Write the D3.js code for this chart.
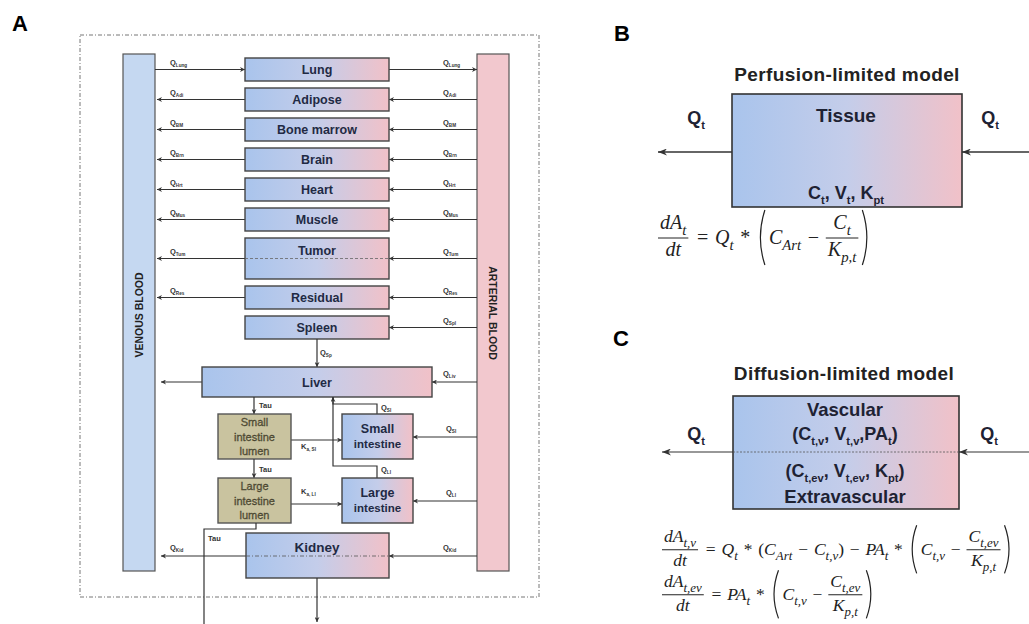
<!DOCTYPE html>
<html>
<head>
<meta charset="utf-8">
<script src="https://cdn.jsdelivr.net/npm/d3@7"></script>
<style>
  body { margin: 0; background: #fff; }
  svg { display: block; font-family: "Liberation Sans", Arial, sans-serif; }
</style>
</head>
<body>
<svg id="fig" width="1029" height="624"></svg>
<script>
// organ stack in panel A, top to bottom
var organs = ["Lung", "Adipose", "Bone marrow", "Brain", "Heart", "Muscle", "Tumor", "Residual", "Spleen"];
var flowSubs = ["Lung", "Adi", "BM", "Brn", "Hrt", "Mus", "Tum", "Res", "Spl"];
var tallOrgans = ["Tumor"];
var gutTissues = [["Small", "intestine"], ["Large", "intestine"]];
var gutSubs = ["SI", "LI"];
var lumens = [["Small", "intestine", "lumen"], ["Large", "intestine", "lumen"]];
var absorbSubs = ["a, SI", "a, LI"];
var transit = "Tau";

var svg = d3.select("#fig");
var defs = svg.append("defs");

var grad = defs.append("linearGradient").attr("id", "tis").attr("x1", 0).attr("x2", 1).attr("y1", 0).attr("y2", 0);
grad.append("stop").attr("offset", "0").attr("stop-color", "#a9c4ec");
grad.append("stop").attr("offset", "0.5").attr("stop-color", "#c4cdea");
grad.append("stop").attr("offset", "1").attr("stop-color", "#f1c1c8");

function marker(id, w, h) {
  defs.append("marker").attr("id", id)
    .attr("markerUnits", "userSpaceOnUse")
    .attr("markerWidth", w).attr("markerHeight", h)
    .attr("refX", w).attr("refY", h / 2).attr("orient", "auto")
    .append("path").attr("d", "M0,0 L" + w + "," + (h / 2) + " L0," + h + " L" + (w * 0.3) + "," + (h / 2) + " z")
    .attr("fill", "#333");
}
marker("sm", 5, 5);
marker("lg", 9, 7);

// text with subscripts: runs = [[str, kind]] kind: s=sub, n=normal
function addRuns(text, runs, fs, subScale) {
  subScale = subScale || 0.62;
  var shift = 0;
  runs.forEach(function (r) {
    var k = r[1] || "";
    var sub = k.indexOf("s") >= 0;
    var target = sub ? fs * 0.3 : 0;
    var ts = text.append("tspan").text(r[0]).attr("dy", target - shift);
    shift = target;
    if (sub) ts.attr("font-size", fs * subScale);
    if (k.indexOf("n") >= 0) ts.attr("font-style", "normal");
  });
  return text;
}

function line(g, pts, mk, opts) {
  opts = opts || {};
  return g.append("path").attr("d", d3.line()(pts))
    .attr("fill", "none").attr("stroke", opts.stroke || "#333")
    .attr("stroke-width", opts.width || 1.2)
    .attr("stroke-dasharray", opts.dash || null)
    .attr("marker-end", mk ? "url(#" + mk + ")" : null);
}

function qLabel(g, x, y, sub) {
  addRuns(g.append("text").attr("x", x).attr("y", y)
    .attr("font-size", 7.5).attr("font-weight", "bold").attr("fill", "#333"),
    [["Q"], [sub, "s"]], 7.5);
}

// ---------- panel A ----------
var A = svg.append("g");
A.append("text").attr("x", 12).attr("y", 31).attr("font-size", 22).attr("font-weight", "bold").text("A");
A.append("rect").attr("x", 80).attr("y", 35).attr("width", 459).attr("height", 562)
  .attr("fill", "none").attr("stroke", "#777").attr("stroke-width", 1).attr("stroke-dasharray", "4,2,1,2");

var venX = [123, 155], artX = [477, 509], orgX = [245, 389];
var barTop = 54, barBot = 571;

A.append("rect").attr("x", venX[0]).attr("y", barTop).attr("width", venX[1] - venX[0]).attr("height", barBot - barTop)
  .attr("fill", "#c5d8f1").attr("stroke", "#555").attr("stroke-width", 1.2);
A.append("rect").attr("x", artX[0]).attr("y", barTop).attr("width", artX[1] - artX[0]).attr("height", barBot - barTop)
  .attr("fill", "#f2c8ce").attr("stroke", "#555").attr("stroke-width", 1.2);

A.append("text").attr("transform", "translate(143,315) rotate(-90)").attr("text-anchor", "middle")
  .attr("font-size", 10.5).attr("font-weight", "bold").attr("fill", "#222").text("VENOUS BLOOD");
A.append("text").attr("transform", "translate(489,313) rotate(90)").attr("text-anchor", "middle")
  .attr("font-size", 10.5).attr("font-weight", "bold").attr("fill", "#222").text("ARTERIAL BLOOD");

// row layout: one unit = 30px pitch, tall rows take 1.6 units
var rowY = d3.scaleLinear().domain([0, 1]).range([58, 88]);
var rows = [], u = 0;
organs.forEach(function (name, i) {
  var span = tallOrgans.indexOf(name) >= 0 ? 1.6 : 1;
  var top = rowY(u), h = rowY(u + span) - top - 7;
  rows.push({ name: name, sub: flowSubs[i], top: top, h: h, cy: top + h / 2 });
  u += span;
});

rows.forEach(function (r, i) {
  if (r.name === "Lung") {
    line(A, [[venX[1], r.cy], [orgX[0], r.cy]], "sm");
    line(A, [[orgX[1], r.cy], [artX[0], r.cy]], "sm");
  } else {
    line(A, [[artX[0], r.cy], [orgX[1], r.cy]], "sm");
    if (r.name !== "Spleen") line(A, [[orgX[0], r.cy], [venX[1] + 2, r.cy]], "sm");
  }
  if (r.name !== "Spleen") qLabel(A, 170, r.cy - 5, r.sub);
  qLabel(A, 443, r.cy - 5, r.sub);
  A.append("rect").attr("x", orgX[0]).attr("y", r.top).attr("width", orgX[1] - orgX[0]).attr("height", r.h)
    .attr("fill", "url(#tis)").attr("stroke", "#444").attr("stroke-width", 1.4);
  var big = r.h > 30;
  A.append("text").attr("x", (orgX[0] + orgX[1]) / 2).attr("y", big ? r.top + 17 : r.cy + 4.5)
    .attr("text-anchor", "middle").attr("font-size", 12.5).attr("font-weight", "bold").attr("fill", "#1f2a44").text(r.name);
  if (big) line(A, [[orgX[0], r.cy], [orgX[1], r.cy]], null, { dash: "3,2", width: 0.8, stroke: "#666" });
});

// spleen -> liver
var spl = rows[rows.length - 1];
var liver = { x0: 202, x1: 432, y0: 367, y1: 397 };
line(A, [[317, spl.top + spl.h], [317, liver.y0]], "sm");
qLabel(A, 320, 355, "Sp");

var ly = (liver.y0 + liver.y1) / 2;
line(A, [[artX[0], ly], [liver.x1, ly]], "sm");
line(A, [[liver.x0, ly], [venX[1] + 6, ly]], "sm");
qLabel(A, 443, ly - 6, "Liv");
A.append("rect").attr("x", liver.x0).attr("y", liver.y0).attr("width", liver.x1 - liver.x0).attr("height", liver.y1 - liver.y0)
  .attr("fill", "url(#tis)").attr("stroke", "#444").attr("stroke-width", 1.4);
A.append("text").attr("x", 317).attr("y", ly + 4.5).attr("text-anchor", "middle")
  .attr("font-size", 12.5).attr("font-weight", "bold").attr("fill", "#1f2a44").text("Liver");

// gut
var gutRows = [{ y0: 414, y1: 459 }, { y0: 478, y1: 523 }];
var lumX = [218, 291], gutX = [342, 413];
var gutTopY = [404, 466];

gutRows.forEach(function (g, i) {
  var fy = g.y0 + 23;
  // transit from above
  var fromY = i === 0 ? liver.y1 : gutRows[0].y1;
  line(A, [[254, fromY], [254, g.y0]], "sm");
  A.append("text").attr("x", 259).attr("y", g.y0 - 6).attr("font-size", 7.5).attr("font-weight", "bold").attr("fill", "#333").text(transit);
  // absorption
  line(A, [[lumX[1], fy + 3], [gutX[0], fy + 3]], "sm");
  addRuns(A.append("text").attr("x", 301).attr("y", i === 0 ? fy + 12 : fy - 7)
    .attr("font-size", 7.5).attr("font-weight", "bold").attr("fill", "#333"), [["K"], [absorbSubs[i], "s"]], 7.5);
  // arterial inflow
  line(A, [[artX[0], fy], [gutX[1], fy]], "sm");
  qLabel(A, 446, fy - 6, gutSubs[i]);
  // venous outflow to liver
  line(A, [[377, g.y0], [377, gutTopY[i]], [333, gutTopY[i]], [333, liver.y1]], i === 0 ? "sm" : null);
  qLabel(A, 381, gutTopY[i] + 6, gutSubs[i]);

  A.append("rect").attr("x", lumX[0]).attr("y", g.y0).attr("width", lumX[1] - lumX[0]).attr("height", g.y1 - g.y0)
    .attr("fill", "#c9c39f").attr("stroke", "#555").attr("stroke-width", 1.4);
  lumens[i].forEach(function (w, j) {
    A.append("text").attr("x", (lumX[0] + lumX[1]) / 2).attr("y", g.y0 + 12 + j * 14.5).attr("text-anchor", "middle")
      .attr("font-size", 11).attr("fill", "#5f5a40").attr("stroke", "#3d3a28").attr("stroke-width", 0.3).text(w);
  });
  A.append("rect").attr("x", gutX[0]).attr("y", g.y0).attr("width", gutX[1] - gutX[0]).attr("height", g.y1 - g.y0)
    .attr("fill", "url(#tis)").attr("stroke", "#444").attr("stroke-width", 1.4);
  gutTissues[i].forEach(function (w, j) {
    A.append("text").attr("x", (gutX[0] + gutX[1]) / 2).attr("y", g.y0 + 19 + j * 15).attr("text-anchor", "middle")
      .attr("font-size", j === 0 ? 12.5 : 11.5).attr("font-weight", "bold").attr("fill", "#1f2a44").text(w);
  });
});

// kidney and excretion
var kid = { x0: 246, x1: 389, y0: 533, y1: 578 };
var ky = 556;
line(A, [[256, gutRows[1].y1], [256, 529], [204, 529], [204, 624]], null);
A.append("text").attr("x", 208).attr("y", 541).attr("font-size", 7.5).attr("font-weight", "bold").attr("fill", "#333").text(transit);
line(A, [[artX[0], ky], [kid.x1, ky]], "sm");
line(A, [[kid.x0, ky], [venX[1] + 6, ky]], "sm");
qLabel(A, 170, ky - 6, "Kid");
qLabel(A, 443, ky - 6, "Kid");
A.append("rect").attr("x", kid.x0).attr("y", kid.y0).attr("width", kid.x1 - kid.x0).attr("height", kid.y1 - kid.y0)
  .attr("fill", "url(#tis)").attr("stroke", "#444").attr("stroke-width", 1.4);
line(A, [[kid.x0, ky], [kid.x1, ky]], null, { dash: "4,2,1,2", width: 0.8, stroke: "#555" });
A.append("text").attr("x", 317).attr("y", 552).attr("text-anchor", "middle")
  .attr("font-size", 13.5).attr("font-weight", "bold").attr("fill", "#1f2a44").text("Kidney");
line(A, [[317, kid.y1], [317, 622]], "sm");

// ---------- equations ----------
var serif = '"Liberation Serif", "DejaVu Serif", serif';
var SP = "\u2004"; // third-em space around operators

function eqText(g, x, y, runs, fs) {
  var t = g.append("text").attr("x", x).attr("y", y).attr("font-family", serif)
    .attr("font-style", "italic").attr("font-size", fs).attr("fill", "#222");
  addRuns(t, runs, fs, 0.74);
  return t;
}

// items: {t: runs} | {frac: [numRuns, denRuns]} | {paren: "(" or ")"}
function equation(g, x0, base, items, fs) {
  var x = x0;
  items.forEach(function (it) {
    if (it.t) {
      var t = eqText(g, x, base, it.t, fs);
      x += t.node().getComputedTextLength();
    } else if (it.frac) {
      var n = eqText(g, 0, 0, it.frac[0], fs), d = eqText(g, 0, 0, it.frac[1], fs);
      var wn = n.node().getComputedTextLength(), wd = d.node().getComputedTextLength();
      var w = Math.max(wn, wd) + 4, bar = base - fs * 0.3;
      n.attr("x", x + (w - wn) / 2).attr("y", bar - fs * 0.45);
      d.attr("x", x + (w - wd) / 2).attr("y", bar + fs * 0.9);
      g.append("line").attr("x1", x).attr("x2", x + w).attr("y1", bar).attr("y2", bar)
        .attr("stroke", "#222").attr("stroke-width", 1);
      x += w + 2;
    } else if (it.paren) {
      var top = base - fs * 1.7, bot = base + fs * 1.05, mid = (top + bot) / 2;
      var open = it.paren === "(";
      var p = open ? "M" + (x + 8) + "," + top + " Q" + (x - 1) + "," + mid + " " + (x + 8) + "," + bot
                   : "M" + (x + 2) + "," + top + " Q" + (x + 11) + "," + mid + " " + (x + 2) + "," + bot;
      g.append("path").attr("d", p).attr("fill", "none").attr("stroke", "#222").attr("stroke-width", 1.2);
      x += 12;
    }
  });
  return x;
}

function boldRich(g, x, y, runs, fs) {
  return addRuns(g.append("text").attr("x", x).attr("y", y).attr("text-anchor", "middle")
    .attr("font-size", fs).attr("font-weight", "bold").attr("fill", "#1e2233"), runs, fs);
}

function op(s) { return [SP + s + SP, "n"]; }

// ---------- panel B ----------
var B = svg.append("g");
B.append("text").attr("x", 614).attr("y", 41).attr("font-size", 22).attr("font-weight", "bold").text("B");
B.append("text").attr("x", 847).attr("y", 81).attr("text-anchor", "middle").attr("font-size", 19)
  .attr("letter-spacing", 0.4).attr("font-weight", "bold").attr("fill", "#222").text("Perfusion-limited model");
line(B, [[1029, 152], [962, 152]], "lg", { width: 1.3 });
line(B, [[732, 152], [658, 152]], "lg", { width: 1.3 });
B.append("rect").attr("x", 732).attr("y", 94).attr("width", 230).attr("height", 113)
  .attr("fill", "url(#tis)").attr("stroke", "#333").attr("stroke-width", 1.6);
boldRich(B, 846, 122, [["Tissue"]], 19);
boldRich(B, 846, 199, [["C"], ["t", "s"], [", V"], ["t", "s"], [", K"], ["pt", "s"]], 18);
boldRich(B, 696, 124, [["Q"], ["t", "s"]], 18);
boldRich(B, 990, 124, [["Q"], ["t", "s"]], 18);

equation(B, 658, 244, [
  { frac: [[["dA"], ["t", "s"]], [["dt"]]] },
  { t: [op("="), ["Q"], ["t", "s"], op("*")] },
  { paren: "(" },
  { t: [["C"], ["Art", "s"], op("−")] },
  { frac: [[["C"], ["t", "s"]], [["K"], ["p,t", "s"]]] },
  { paren: ")" }
], 20);

// ---------- panel C ----------
var C = svg.append("g");
C.append("text").attr("x", 613).attr("y", 346).attr("font-size", 22).attr("font-weight", "bold").text("C");
C.append("text").attr("x", 844).attr("y", 380).attr("text-anchor", "middle").attr("font-size", 19)
  .attr("letter-spacing", 0.4).attr("font-weight", "bold").attr("fill", "#222").text("Diffusion-limited model");
C.append("rect").attr("x", 733).attr("y", 396).attr("width", 226).attr("height", 113)
  .attr("fill", "url(#tis)").attr("stroke", "#333").attr("stroke-width", 1.6);
line(C, [[1029, 452], [959, 452]], "lg", { width: 1.1 });
line(C, [[959, 452], [733, 452]], null, { width: 0.8, dash: "2,1.5", stroke: "#555" });
line(C, [[733, 452], [662, 452]], "lg", { width: 1.1 });
boldRich(C, 845, 416, [["Vascular"]], 18.5);
boldRich(C, 845, 440, [["(C"], ["t,v", "s"], [", V"], ["t,v", "s"], [",PA"], ["t", "s"], [")"]], 18);
boldRich(C, 845, 477, [["(C"], ["t,ev", "s"], [", V"], ["t,ev", "s"], [", K"], ["pt", "s"], [")"]], 18);
boldRich(C, 845, 503, [["Extravascular"]], 18.5);
boldRich(C, 696, 440, [["Q"], ["t", "s"]], 18);
boldRich(C, 989, 440, [["Q"], ["t", "s"]], 18);

equation(C, 662, 555, [
  { frac: [[["dA"], ["t,v", "s"]], [["dt"]]] },
  { t: [op("="), ["Q"], ["t", "s"], op("*"), ["(", "n"], ["C"], ["Art", "s"], op("−"), ["C"], ["t,v", "s"], [")", "n"], op("−"), ["PA"], ["t", "s"], op("*")] },
  { paren: "(" },
  { t: [["C"], ["t,v", "s"], op("−")] },
  { frac: [[["C"], ["t,ev", "s"]], [["K"], ["p,t", "s"]]] },
  { paren: ")" }
], 17.5);

equation(C, 662, 600, [
  { frac: [[["dA"], ["t,ev", "s"]], [["dt"]]] },
  { t: [op("="), ["PA"], ["t", "s"], op("*")] },
  { paren: "(" },
  { t: [["C"], ["t,v", "s"], op("−")] },
  { frac: [[["C"], ["t,ev", "s"]], [["K"], ["p,t", "s"]]] },
  { paren: ")" }
], 17.5);
</script>
</body>
</html>
